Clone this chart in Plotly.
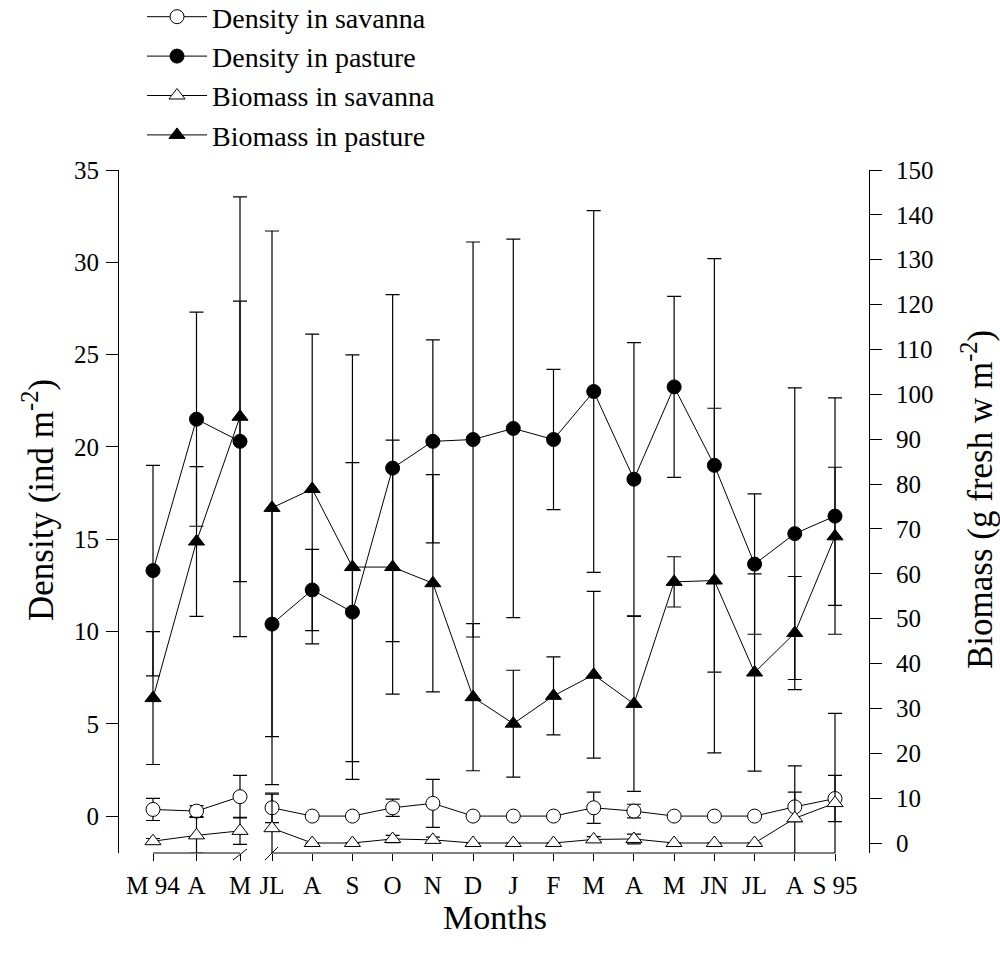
import plotly.graph_objects as go

# ---------------- data ----------------
month_labels = ["M 94", "A", "M", "JL", "A", "S", "O", "N", "D", "J", "F",
                "M", "A", "M", "JN", "JL", "A", "S 95"]
month_pos = list(range(18))

dens_savanna = [0.36, 0.27, 1.05, 0.45, 0.0, 0.0, 0.45, 0.69, 0.0, 0.0, 0.0,
                0.45, 0.27, 0.0, 0.0, 0.0, 0.50, 0.95]
dens_savanna_err = [0.6, 0.3, 1.15, 0.8, None, None, 0.47, 1.3, None, None, None,
                    0.85, 0.37, None, None, None, 0.8, 1.25]

dens_pasture = [13.3, 21.5, 20.3, 10.4, 12.25, 11.05, 18.85, 20.3, 20.4, 21.0, 20.4,
                23.0, 18.25, 23.25, 19.0, 13.65, 15.3, 16.25]
dens_pasture_err = [5.7, 5.8, 7.6, 6.1, 2.2, 8.1, 9.4, 5.5, 10.7, 10.25, 3.8,
                    9.8, 7.4, 4.9, 11.2, 3.8, 7.9, 6.4]

bio_savanna = [0.4, 1.7, 2.7, 3.3, 0.0, 0.0, 0.9, 0.7, 0.0, 0.0, 0.0,
               0.8, 0.9, 0.0, 0.0, 0.0, 5.5, 8.9]
bio_savanna_err = [0.6, 4.0, 3.0, 7.6, None, None, 0.8, 0.6, None, None, None,
                   0.6, 1.1, None, None, None, 11.7, 20.0]

bio_pasture = [32.3, 67.2, 95.0, 74.7, 78.9, 61.5, 61.5, 57.9, 32.5, 26.6, 32.8,
               37.5, 31.0, 58.2, 58.5, 38.0, 46.8, 68.35]
bio_pasture_err = [14.8, 16.7, 49.0, 61.7, 34.5, 47.3, 28.3, 24.2, 16.4, 11.9, 8.7,
                   18.6, 19.5, 5.6, 38.4, 22.0, 12.6, 15.4]

density_ticks = [0, 5, 10, 15, 20, 25, 30, 35]
biomass_ticks = list(range(0, 151, 10))

# ---------------- layout helpers ----------------
W, H = 1000, 960
FONT = "Liberation Serif"


def px(x):
    return x / W


def py(y):
    return 1 - y / H


seg1 = slice(0, 3)
seg2 = slice(3, 18)

series = [
    ("Density in savanna", dens_savanna, dens_savanna_err, "y",
     dict(symbol="circle", color="white", size=14, line=dict(color="black", width=1))),
    ("Density in pasture", dens_pasture, dens_pasture_err, "y",
     dict(symbol="circle", color="black", size=14, line=dict(color="black", width=1))),
    ("Biomass in savanna", bio_savanna, bio_savanna_err, "y2",
     dict(symbol="triangle-up", color="white", size=14, line=dict(color="black", width=1))),
    ("Biomass in pasture", bio_pasture, bio_pasture_err, "y2",
     dict(symbol="triangle-up", color="black", size=14, line=dict(color="black", width=1))),
]

fig = go.Figure()
for rank, (name, vals, errs, yax, marker) in enumerate(series):
    for k, (sl, xa) in enumerate([(seg1, "x"), (seg2, "x2")]):
        fig.add_trace(go.Scatter(
            x=month_pos[sl], y=vals[sl], mode="lines+markers",
            name=name, legendgroup=name, showlegend=(k == 0), legendrank=rank + 1,
            xaxis=xa, yaxis=yax,
            line=dict(color="black", width=1),
            marker=marker,
            error_y=dict(type="data", array=errs[sl], visible=True,
                         color="black", thickness=1.2, width=7),
        ))

tickfont = dict(family=FONT, size=25, color="black")

# x positions: first segment 0..2 at px 153..240, second 3..17 at px 272..835
s1 = (240 - 153) / 2.0
s2 = (835 - 272) / 14.0

fig.update_layout(
    width=W, height=H,
    margin=dict(l=0, r=0, t=0, b=0, autoexpand=False),
    paper_bgcolor="white", plot_bgcolor="white",
    showlegend=True,
    legend=dict(x=px(142), y=1 + 8 / H, xanchor="left", yanchor="top",
                font=dict(family=FONT, size=28, color="black"),
                bgcolor="rgba(0,0,0,0)", itemwidth=60,
                traceorder="normal"),
    xaxis=dict(domain=[px(135), px(256)],
               range=[(135 - 153) / s1, 2 + (256 - 240) / s1],
               anchor="y", tickmode="array", tickvals=month_pos[seg1],
               ticktext=month_labels[seg1], ticks="outside", ticklen=7,
               tickcolor="black", tickwidth=1, showline=False, showgrid=False,
               zeroline=False, tickfont=tickfont, ticklabelstandoff=3),
    xaxis2=dict(domain=[px(256), px(860)],
                range=[3 - (272 - 256) / s2, 17 + (860 - 835) / s2],
                anchor="y", tickmode="array", tickvals=month_pos[seg2],
                ticktext=month_labels[seg2], ticks="outside", ticklen=7,
                tickcolor="black", tickwidth=1, showline=False, showgrid=False,
                zeroline=False, tickfont=tickfont, ticklabelstandoff=3),
    yaxis=dict(domain=[py(853), py(170)], range=[-2, 35], anchor="free",
               position=px(118), tickmode="array", tickvals=density_ticks,
               ticks="outside", ticklen=12, tickcolor="black", tickwidth=1,
               showline=True, linecolor="black", linewidth=1, showgrid=False,
               zeroline=False, tickfont=tickfont, ticklabelstandoff=2),
    yaxis2=dict(domain=[py(853), py(170)], range=[-2.229, 150], anchor="free",
                position=px(869), overlaying="y", side="right", tickmode="array",
                tickvals=biomass_ticks, ticks="outside", ticklen=12,
                tickcolor="black", tickwidth=1, showline=True, linecolor="black",
                linewidth=1, showgrid=False, zeroline=False, tickfont=tickfont,
                ticklabelstandoff=9),
)

# x-axis line segments and break marks
shapes = [
    dict(type="line", xref="x", yref="y domain", x0=month_pos[0], x1=month_pos[2],
         y0=0, y1=0, line=dict(color="black", width=1)),
    dict(type="line", xref="x2", yref="y domain", x0=month_pos[3], x1=month_pos[17],
         y0=0, y1=0, line=dict(color="black", width=1)),
    dict(type="line", xref="x", xsizemode="pixel", xanchor=month_pos[2], x0=-7, x1=7,
         yref="y domain", ysizemode="pixel", yanchor=0, y0=-7, y1=4,
         line=dict(color="black", width=1)),
    dict(type="line", xref="x2", xsizemode="pixel", xanchor=month_pos[3], x0=-7, x1=6,
         yref="y domain", ysizemode="pixel", yanchor=0, y0=-7, y1=6,
         line=dict(color="black", width=1)),
]
fig.update_layout(shapes=shapes)

fig.update_layout(annotations=[
    dict(text="Months", x=px(495), y=py(917), xref="paper", yref="paper",
         showarrow=False, font=dict(family=FONT, size=34, color="black"),
         xanchor="center", yanchor="middle"),
    dict(text="Density (ind m<sup>-2</sup>)", x=px(38), y=py(500), xref="paper",
         yref="paper", showarrow=False, font=dict(family=FONT, size=35, color="black"),
         textangle=-90, xanchor="center", yanchor="middle"),
    dict(text="Biomass (g fresh w m<sup>-2</sup>)", x=px(977), y=py(500),
         xref="paper", yref="paper", showarrow=False,
         font=dict(family=FONT, size=35, color="black"),
         textangle=-90, xanchor="center", yanchor="middle"),
])

fig.write_html("out.html",
               config={"displayModeBar": False},
               post_script="document.body.style.margin='0';document.body.style.overflow='hidden';")
